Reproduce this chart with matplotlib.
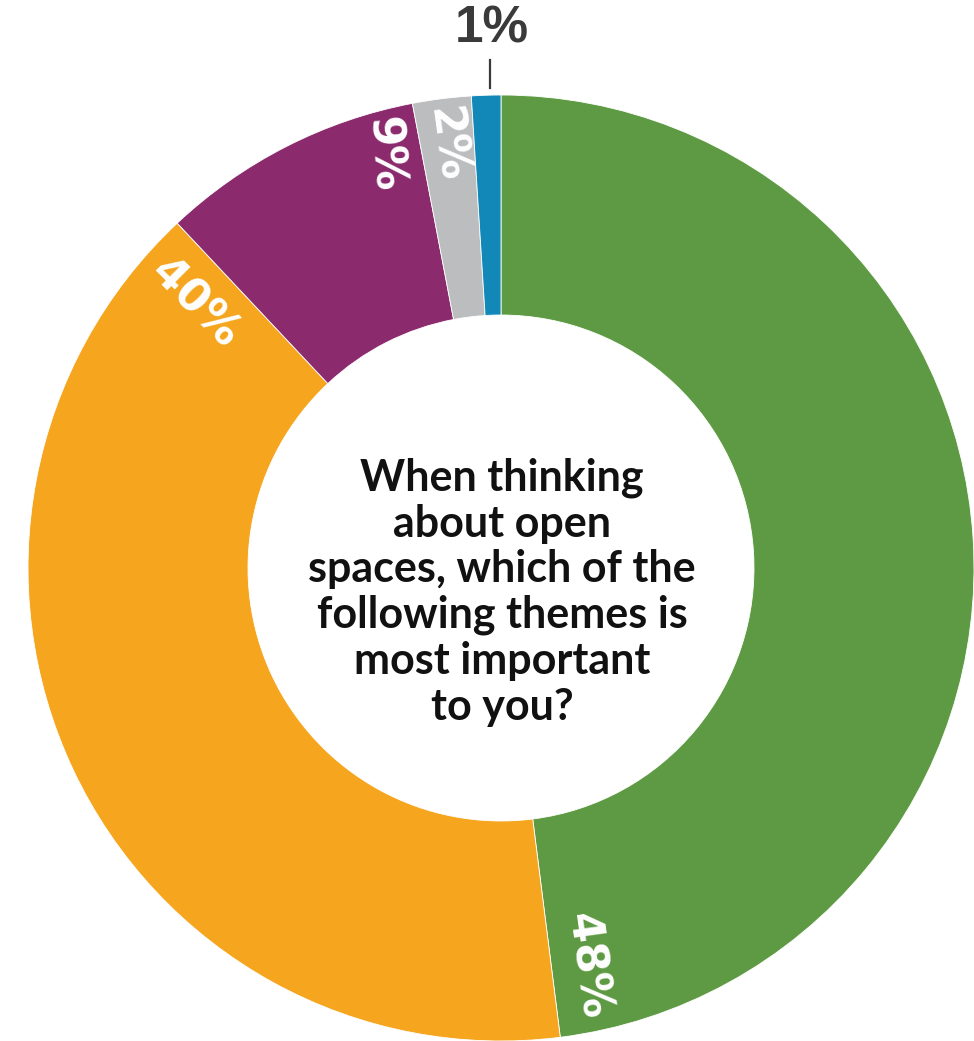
import matplotlib
matplotlib.use("Agg")
import matplotlib.pyplot as plt

categories = ["Theme A", "Theme B", "Theme C", "Theme D", "Theme E"]
values = [48, 40, 9, 2, 1]
labels = ["48%", "40%", "9%", "2%", "1%"]
colors = ["#5E9A43", "#F5A51E", "#8B2B6E", "#BCBDBF", "#1188B7"]
question = "When thinking\nabout open\nspaces, which of the\nfollowing themes is\nmost important\nto you?"

W, H = 974, 1041
fig = plt.figure(figsize=(W / 100, H / 100), dpi=100)
ax = fig.add_axes([0, 0, 1, 1])

cx, cy = 501, H - 568
R, r_in = 473, 253
ax.pie(values, colors=colors, startangle=90, counterclock=False,
       center=(cx, cy), radius=R, frame=True,
       wedgeprops=dict(width=R - r_in, edgecolor="white", linewidth=0.6))
ax.set_xlim(0, W)
ax.set_ylim(0, H)
ax.set_aspect("equal")
ax.axis("off")

lab_font = ["DejaVu Sans"]
# in-slice labels (pixel positions, rotation)
placements = [(587, H - 966, -82), (195, H - 303, -45), (384, H - 155, -86), (447, H - 145, -82)]
for lab, (x, y, rot) in zip(labels[:4], placements):
    ax.text(x, y, lab, color="white", fontsize=32, fontweight="bold", family=lab_font,
            rotation=rot, ha="center", va="center", rotation_mode="anchor")

# 1% label outside
ax.text(492, H - 29, labels[4], color="#3A3A3A", fontsize=37, fontweight="bold",
        family=["Liberation Sans", "DejaVu Sans"], ha="center", va="center")
ax.plot([490, 490], [H - 60, H - 88], color="#3A3A3A", lw=1.6)

ax.text(cx + 1, H - 592, question, ha="center", va="center", fontsize=31,
        fontweight="bold", family=["Lato", "DejaVu Sans"], color="#111111",
        linespacing=1.17)

fig.savefig("out.png", dpi=100)
